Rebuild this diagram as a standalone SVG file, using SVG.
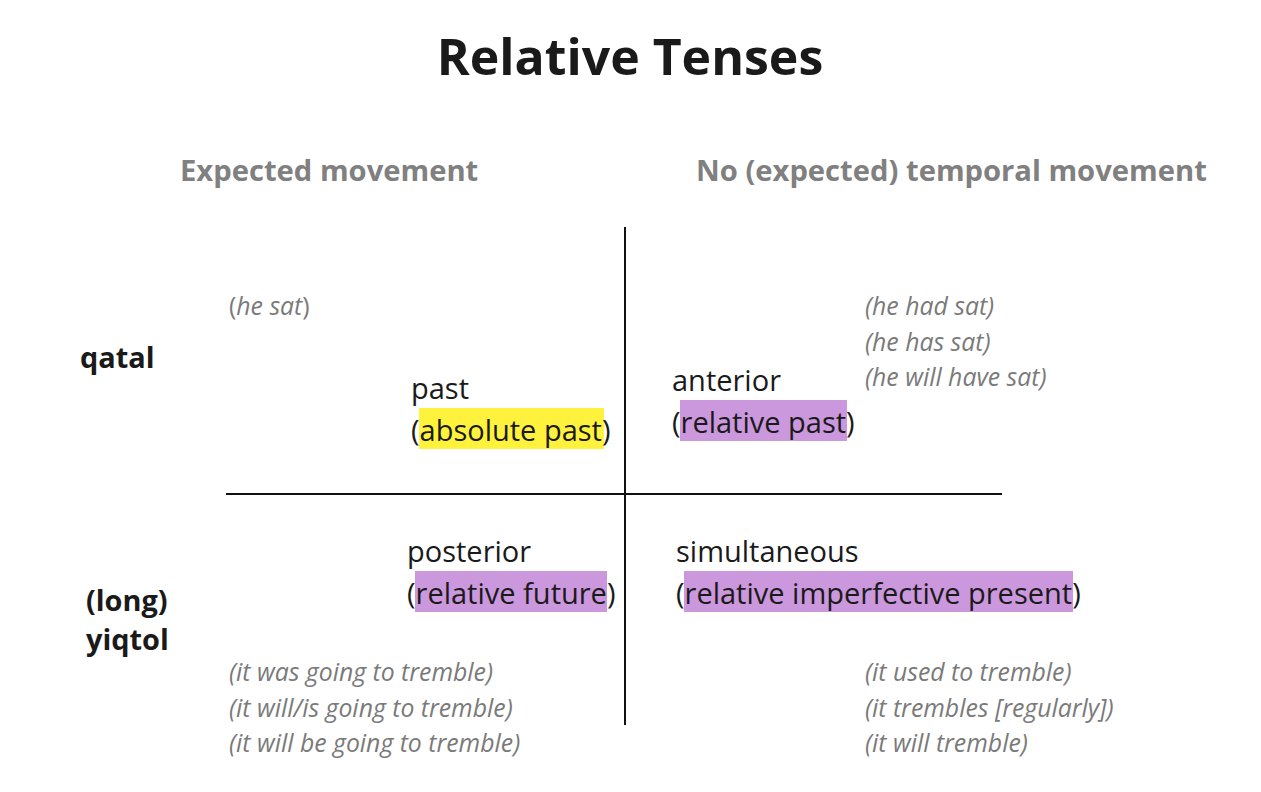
<svg xmlns="http://www.w3.org/2000/svg" width="1261" height="792" viewBox="0 0 1261 792">
<style>
text{font-family:"Open Sans","Noto Sans",sans-serif}
.title{font-size:50px;font-weight:700;fill:#1a1a1a}
.hdr{font-size:29.2px;font-weight:700;fill:#808080}
.row{font-size:28.9px;font-weight:700;fill:#1a1a1a}
.lbl{font-size:29px;fill:#1a1a1a}
.ex{font-size:24.8px;font-style:italic;fill:#7a7a7a}
.up{font-style:normal}
.ax{stroke:#111;stroke-width:2;fill:none}
.hy{fill:#fff23c}
.hp{fill:#cb97dd}
</style>
<rect width="1261" height="792" fill="#fff"/>
<text class="title" x="630" y="75" text-anchor="middle">Relative Tenses</text>
<text class="hdr" x="180" y="181">Expected movement</text>
<text class="hdr" x="696" y="181">No (expected) temporal movement</text>
<g id="connectors">
<line class="ax" x1="625" y1="227" x2="625" y2="725"/>
<line class="ax" x1="226" y1="494" x2="1002" y2="494"/>
</g>
<g id="row-qatal"><text class="row" x="80" y="368">qatal</text></g>
<g id="row-yiqtol"><text class="row" x="86" y="611">(long)</text><text class="row" x="86" y="650">yiqtol</text></g>
<g id="past">
<rect class="hy" x="419" y="408" width="185" height="41"/>
<text class="lbl" x="411" y="398.5">past</text>
<text class="lbl" x="411" y="440.5">(absolute past)</text>
</g>
<g id="anterior">
<rect class="hp" x="680" y="400" width="167" height="41"/>
<text class="lbl" x="672" y="390.5">anterior</text>
<text class="lbl" x="672" y="432.5">(relative past)</text>
</g>
<g id="posterior">
<rect class="hp" x="415" y="571" width="192" height="41"/>
<text class="lbl" x="407" y="561.5">posterior</text>
<text class="lbl" x="407" y="603.5">(relative future)</text>
</g>
<g id="simultaneous">
<rect class="hp" x="684" y="571" width="389" height="41"/>
<text class="lbl" x="676" y="561.5">simultaneous</text>
<text class="lbl" x="676" y="603.5">(relative imperfective present)</text>
</g>
<g id="ex-past"><text class="ex" x="229" y="315"><tspan class="up">(</tspan>he sat<tspan class="up">)</tspan></text></g>
<g id="ex-anterior">
<text class="ex" x="865" y="315">(he had sat)</text>
<text class="ex" x="865" y="351">(he has sat)</text>
<text class="ex" x="865" y="386">(he will have sat)</text>
</g>
<g id="ex-posterior">
<text class="ex" x="229" y="681">(it was going to tremble)</text>
<text class="ex" x="229" y="717">(it will/is going to tremble)</text>
<text class="ex" x="229" y="752">(it will be going to tremble)</text>
</g>
<g id="ex-simultaneous">
<text class="ex" x="865" y="681">(it used to tremble)</text>
<text class="ex" x="865" y="717">(it trembles [regularly])</text>
<text class="ex" x="865" y="752">(it will tremble)</text>
</g>
</svg>
